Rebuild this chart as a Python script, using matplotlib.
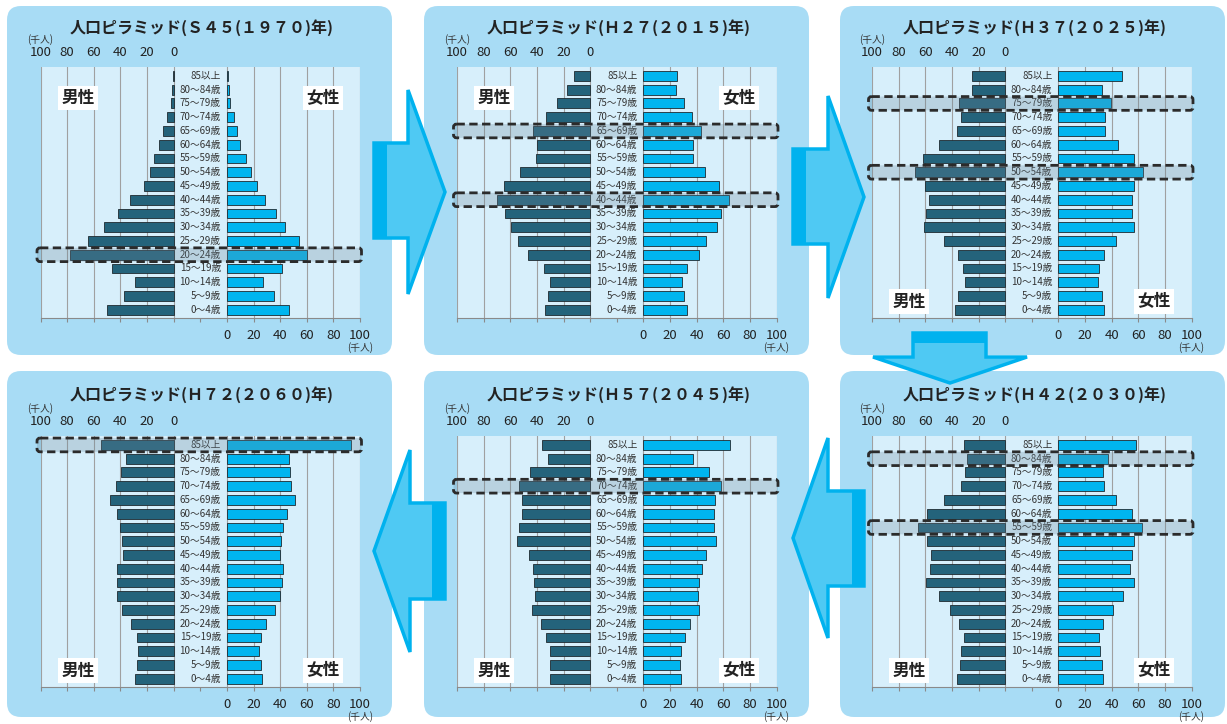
import numpy as np
import matplotlib
matplotlib.use('Agg')
import matplotlib.pyplot as plt
from matplotlib.patches import FancyBboxPatch, Polygon, Rectangle
import matplotlib.transforms as mtransforms

plt.rcParams['font.family'] = ['Noto Sans CJK JP', 'DejaVu Sans']

# ---------------- data (top row = 85以上 ... bottom row = 0～4歳), thousand people
ages = ['85以上', '80～84歳', '75～79歳', '70～74歳', '65～69歳', '60～64歳',
        '55～59歳', '50～54歳', '45～49歳', '40～44歳', '35～39歳', '30～34歳',
        '25～29歳', '20～24歳', '15～19歳', '10～14歳', '5～9歳', '0～4歳']

male_1970 = [0.5, 1, 2, 5, 8, 11, 15, 17.5, 22, 32.5, 41.5, 52, 64.5, 78, 46.5, 29, 37, 50]
female_1970 = [0.5, 1.5, 2.5, 5, 7.5, 10, 14.5, 18, 23, 29, 37, 44, 54.5, 60, 41.5, 27, 35.5, 47]

male_2015 = [12, 17, 25, 33, 43, 40, 41, 53, 65, 70, 64, 59.5, 54, 46.5, 35, 30.5, 32, 34]
female_2015 = [25.5, 24.5, 30.5, 36.5, 43.5, 37.5, 37.5, 46.5, 57, 64.5, 58.5, 55, 47, 42, 32.5, 29, 30.5, 32.5]

male_2025 = [25, 25, 35, 33, 36, 50, 61.5, 67.5, 60.5, 57.5, 59.5, 61, 46, 35.5, 31.5, 30.5, 35.5, 37.5]
female_2025 = [48, 32.5, 39.5, 35, 35, 45, 56.5, 63.5, 57, 55.5, 55.5, 56.5, 43.5, 34, 30.5, 29.5, 33, 34]

male_2030 = [31, 29, 30, 33, 46, 59, 65.5, 59, 56, 56.5, 59.5, 50, 41.5, 35, 31, 33.5, 34, 36]
female_2030 = [58, 37.5, 33.5, 34, 43.5, 55.5, 63, 57, 55, 54, 56.5, 48.5, 41, 33.5, 30.5, 31.5, 32.5, 33.5]

male_2045 = [36.5, 31.5, 45, 53.5, 51.5, 51.5, 53.5, 55, 46, 43, 42, 41.5, 44, 37, 33, 30.5, 30, 30]
female_2045 = [65, 37.5, 49.5, 58, 54, 53, 53, 54.5, 47, 44, 42, 41, 41.5, 35, 31, 28.5, 27.5, 28]

male_2060 = [54.5, 36, 39.5, 43, 47.5, 42.5, 40.5, 39, 38, 42.5, 42.5, 42.5, 39, 32, 27.5, 26.5, 27.5, 29]
female_2060 = [93, 46.5, 47.5, 48.5, 51, 45.5, 42.5, 41, 40, 42, 41.5, 40, 36, 29.5, 25.5, 24.5, 25.5, 26.5]

titles = ['人口ピラミッド(Ｓ４５(１９７０)年)', '人口ピラミッド(Ｈ２７(２０１５)年)',
          '人口ピラミッド(Ｈ３７(２０２５)年)', '人口ピラミッド(Ｈ４２(２０３０)年)',
          '人口ピラミッド(Ｈ５７(２０４５)年)', '人口ピラミッド(Ｈ７２(２０６０)年)']

highlights = [['20～24歳'], ['65～69歳', '40～44歳'], ['75～79歳', '50～54歳'],
              ['80～84歳', '55～59歳'], ['70～74歳'], ['85以上']]

tick_vals = [0, 20, 40, 60, 80, 100]

# ---------------- styling / layout
W, H = 1227, 724
PANEL_BG = '#a8dcf5'
PLOT_BG = '#d7effb'
MALE_C = '#24637b'
FEMALE_C = '#00b5ef'
ARROW_FILL = '#4fc9f3'
ARROW_EDGE = '#00b2ee'
GAP = 40  # width of center label column in axis units

fig = plt.figure(figsize=(W / 100, H / 100), dpi=100)
bg = fig.add_axes([0, 0, 1, 1], zorder=0)
bg.set_xlim(0, W)
bg.set_ylim(H, 0)
bg.axis('off')

col_x = [7, 424, 840]
row_y = [6, 371]
row_h = [349, 346]
panel_w = 385
ax_left = [40.5, 457, 872]
ax_top = [67, 436]
ax_w = 319.5
ax_h = 251

# (col, row, male, female, labels-at-top)
layout = [
    (0, 0, male_1970, female_1970, True),
    (1, 0, male_2015, female_2015, True),
    (2, 0, male_2025, female_2025, False),
    (2, 1, male_2030, female_2030, False),
    (1, 1, male_2045, female_2045, False),
    (0, 1, male_2060, female_2060, False),
]

axes_list = []
ypos = np.arange(len(ages))[::-1]
for k, (c, r, male, female, top_lab) in enumerate(layout):
    px, py = col_x[c], row_y[r]
    bg.add_patch(FancyBboxPatch((px, py), panel_w, row_h[r],
                                boxstyle='round,pad=0,rounding_size=14',
                                fc=PANEL_BG, ec='none'))
    bg.text(px + panel_w / 2 + 2, py + (22 if r == 0 else 24), titles[k],
            ha='center', va='center', fontsize=11.5, fontweight='bold', color='#222222')

    l, t = ax_left[c], ax_top[r]
    ax = fig.add_axes([l / W, 1 - (t + ax_h) / H, ax_w / W, ax_h / H], zorder=1)
    axes_list.append(ax)
    ax.set_xlim(-100 - GAP, 100)
    ax.set_ylim(-0.6, 17.65)
    ax.set_facecolor(PLOT_BG)
    for s in ['top', 'left', 'right']:
        ax.spines[s].set_visible(False)
    ax.spines['bottom'].set_color('#8a8a8a')
    ax.spines['bottom'].set_linewidth(0.8)

    for v in tick_vals:
        ax.axvline(-GAP - v, color='#a0a0a0', lw=0.8, zorder=1)
        ax.axvline(v, color='#a0a0a0', lw=0.8, zorder=1)

    ax.barh(ypos, -np.array(male), left=-GAP, height=0.72, color=MALE_C,
            edgecolor='#1e2a30', linewidth=0.6, zorder=3)
    ax.barh(ypos, female, left=0, height=0.72, color=FEMALE_C,
            edgecolor='#1e2a30', linewidth=0.6, zorder=3)

    for yi, lab in zip(ypos, ages):
        ax.text(-4.5, yi, lab, ha='right', va='center', fontsize=7,
                color='#333333', zorder=4)

    all_ticks = list(range(-100 - GAP, 101, 20))
    ax.set_xticks(all_ticks)
    ax.set_xticklabels([str(v) if v >= 0 else '' for v in all_ticks])
    ax.tick_params(axis='x', direction='out', length=3, width=0.8, color='#8a8a8a',
                   labelsize=9.5, labelcolor='#222222', pad=5)
    ax.set_yticks([])

    sec = ax.secondary_xaxis('top')
    sec.set_xticks([-GAP - v for v in tick_vals])
    sec.set_xticklabels([str(v) for v in tick_vals])
    sec.tick_params(length=0, labelsize=9.5, labelcolor='#222222', pad=6)
    sec.spines['top'].set_visible(False)

    tr = mtransforms.blended_transform_factory(ax.transData, ax.transAxes)
    ax.text(-GAP - 100, 1 + 27 / ax_h, '(千人)', transform=tr, ha='center',
            va='center', fontsize=7, color='#333333')
    ax.text(100, -30 / ax_h, '(千人)', transform=tr, ha='center',
            va='center', fontsize=7, color='#333333')

    ylab = 15.4 if top_lab else 0.6
    bbox = dict(boxstyle='square,pad=0.2', fc='white', ec='none')
    ax.text(-GAP - 72, ylab, '男性', ha='center', va='center', fontsize=12,
            fontweight='bold', color='#222222', bbox=bbox, zorder=5)
    ax.text(72, ylab, '女性', ha='center', va='center', fontsize=12,
            fontweight='bold', color='#222222', bbox=bbox, zorder=5)

# ---------------- overlay: highlight boxes and arrows
ov = fig.add_axes([0, 0, 1, 1], zorder=5)
ov.set_xlim(0, W)
ov.set_ylim(H, 0)
ov.axis('off')
ov.patch.set_alpha(0)

for k, (c, r, male, female, top_lab) in enumerate(layout):
    ax = axes_list[k]
    for lab in highlights[k]:
        yi = ypos[ages.index(lab)]
        d0 = ax.transData.transform((0, yi + 0.5))[1]
        d1 = ax.transData.transform((0, yi - 0.5))[1]
        ytop, ybot = H - d0, H - d1
        x0 = ax_left[c] - 3.5
        x1 = ax_left[c] + ax_w + 1.5
        ov.add_patch(FancyBboxPatch((x0, ytop), x1 - x0, ybot - ytop,
                                    boxstyle='round,pad=0,rounding_size=3',
                                    fc=(0.42, 0.53, 0.6, 0.27), ec='#2b2b2b',
                                    lw=2, ls=(0, (3, 1.6)), zorder=2))


def right_arrow(x0, xb, xt, y0, y1, yh0, yh1, yt, strip):
    pts = [(x0, y0), (xb, y0), (xb, yh0), (xt, yt), (xb, yh1), (xb, y1), (x0, y1)]
    ov.add_patch(Polygon(pts, closed=True, fc=ARROW_FILL, ec=ARROW_EDGE, lw=2.5, zorder=3))
    ov.add_patch(Rectangle((x0, y0), strip, y1 - y0, fc=ARROW_EDGE, ec='none', zorder=3.1))


# 1970 -> 2015
right_arrow(374, 408, 445, 143, 238, 90, 294, 192, 13)
# 2015 -> 2025
right_arrow(793, 828, 864, 149, 244, 96, 298, 197, 13)

# 2025 -> 2030 (down)
pts = [(913, 333), (986, 333), (986, 357), (1027, 357), (950, 383), (873, 357), (913, 357)]
ov.add_patch(Polygon(pts, closed=True, fc=ARROW_FILL, ec=ARROW_EDGE, lw=2.5, zorder=3))
ov.add_patch(Rectangle((913, 333), 73, 10, fc=ARROW_EDGE, ec='none', zorder=3.1))


def left_arrow(x1, xb, xt, y0, y1, yh0, yh1, yt, strip):
    pts = [(x1, y0), (xb, y0), (xb, yh0), (xt, yt), (xb, yh1), (xb, y1), (x1, y1)]
    ov.add_patch(Polygon(pts, closed=True, fc=ARROW_FILL, ec=ARROW_EDGE, lw=2.5, zorder=3))
    ov.add_patch(Rectangle((x1 - strip, y0), strip, y1 - y0, fc=ARROW_EDGE, ec='none', zorder=3.1))


# 2030 -> 2045
left_arrow(864, 828, 793, 491, 586, 438, 638, 538, 12)
# 2045 -> 2060
left_arrow(445, 410, 374, 503, 599, 450, 652, 551, 13)

fig.savefig('out.png', dpi=100, facecolor='white')
